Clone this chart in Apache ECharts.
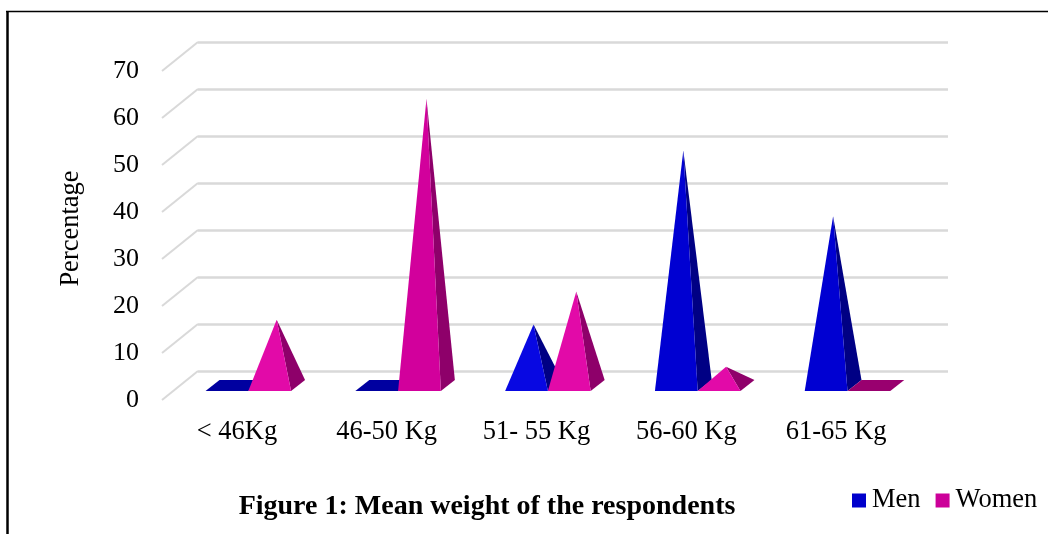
<!DOCTYPE html>
<html>
<head>
<meta charset="utf-8">
<style>html,body{margin:0;padding:0;background:#fff}#c{width:1048px;height:534px}</style>
<script src="https://cdn.jsdelivr.net/npm/echarts@6/dist/echarts.min.js"></script>
</head>
<body>
<div id="c"></div>
<script>
const categories = ['< 46Kg', '46-50 Kg', '51- 55 Kg', '56-60 Kg', '61-65 Kg'];
const menValues = [0, 0, 13, 50, 36];
const womenValues = [14, 61, 20, 4, 0];
const yTicks = [0, 10, 20, 30, 40, 50, 60, 70];

const FONT = '"Liberation Serif", "Times New Roman", serif';
const DEPTH_X = 36, DEPTH_Y = 29;          // wall depth
const FRONT_X = 11.4, FRONT_Y = 9;         // base front edge, from front plane
const BASE_DX = 14, BASE_DY = 11;          // base depth
const BAR_FRAC = 0.2855;

function pyramid(side, c) {
  return function (params, api) {
    const v = api.value(1);
    const p = api.coord([api.value(0), v]);
    const p0 = api.coord([api.value(0), 0]);
    const w = api.size([1, 0])[0] * BAR_FRAC;
    const xl = p0[0] + FRONT_X + (side < 0 ? -w : 0);
    const xr = xl + w;
    const yf = p0[1] - FRONT_Y;
    const FL = [xl, yf], FR = [xr, yf];
    const BR = [xr + BASE_DX, yf - BASE_DY], BL = [xl + BASE_DX, yf - BASE_DY];
    if (v === 0) {
      return { type: 'polygon', shape: { points: [FL, FR, BR, BL] }, style: { fill: c.zero } };
    }
    const apex = [(xl + xr) / 2 + BASE_DX / 2, p[1] - FRONT_Y - BASE_DY / 2];
    const fill = v < 30 ? c.bright : c.front;
    return {
      type: 'group',
      children: [
        { type: 'polygon', shape: { points: [FR, BR, apex] }, style: { fill: c.side } },
        { type: 'polygon', shape: { points: [FL, FR, apex] }, style: { fill: fill } }
      ]
    };
  };
}

const chart = echarts.init(document.getElementById('c'), null, { renderer: 'canvas' });
chart.setOption({
  animation: false,
  backgroundColor: '#fff',
  title: {
    text: 'Figure 1: Mean weight of the respondents',
    left: 482, top: 488, textAlign: 'center',
    textStyle: { fontFamily: FONT, fontSize: 28, fontWeight: 'bold', color: '#000' }
  },
  legend: {
    left: 847, top: 482, itemWidth: 14, itemHeight: 14, itemGap: 15,
    icon: 'rect',
    textStyle: { fontFamily: FONT, fontSize: 26.5, color: '#000', padding: [0, 0, 0, 1] },
    data: [
      { name: 'Men', itemStyle: { color: '#0000cc' } },
      { name: 'Women', itemStyle: { color: '#cc0099' } }
    ]
  },
  grid: [
    { left: 162, top: 71, width: 749, height: 329 },
    { left: 198, top: 42, width: 750, height: 329 }
  ],
  xAxis: [
    {
      type: 'category', gridIndex: 0, data: categories,
      axisLine: { show: false }, axisTick: { show: false },
      axisLabel: { fontFamily: FONT, fontSize: 26.5, color: '#000', margin: 19, interval: 0 }
    },
    { type: 'value', gridIndex: 1, min: 0, max: 1, show: false }
  ],
  yAxis: [
    {
      type: 'value', gridIndex: 0, min: 0, max: 70, interval: 10,
      name: 'Percentage', nameLocation: 'middle', nameGap: 77, nameRotate: 90,
      nameTextStyle: { fontFamily: FONT, fontSize: 26.5, color: '#000', padding: [0, 0, 0, 14] },
      axisLine: { show: false }, axisTick: { show: false }, splitLine: { show: false },
      axisLabel: { fontFamily: FONT, fontSize: 26, color: '#000', margin: 23 }
    },
    {
      type: 'value', gridIndex: 1, min: 0, max: 70, interval: 10,
      axisLine: { show: false }, axisTick: { show: false }, axisLabel: { show: false },
      splitLine: { show: true, lineStyle: { color: '#d9d9d9', width: 2.5 } }
    }
  ],
  series: [
    {
      name: 'walls', type: 'custom', xAxisIndex: 0, yAxisIndex: 0, silent: true, z: 1,
      data: yTicks.map(function (t) { return [0, t]; }),
      renderItem: function (params, api) {
        const y = api.coord([0, api.value(1)])[1];
        const x = params.coordSys.x;
        return {
          type: 'line',
          shape: { x1: x, y1: y, x2: x + DEPTH_X, y2: y - DEPTH_Y },
          style: { stroke: '#d9d9d9', lineWidth: 2 }
        };
      }
    },
    {
      name: 'Men', type: 'custom', xAxisIndex: 0, yAxisIndex: 0, z: 2,
      encode: { x: 0, y: 1 },
      data: menValues.map(function (v, i) { return [i, v]; }),
      renderItem: pyramid(-1, { front: '#0000d2', bright: '#0808e2', side: '#000084', zero: '#0000a0' })
    },
    {
      name: 'Women', type: 'custom', xAxisIndex: 0, yAxisIndex: 0, z: 3,
      encode: { x: 0, y: 1 },
      data: womenValues.map(function (v, i) { return [i, v]; }),
      renderItem: pyramid(1, { front: '#d2009c', bright: '#e20aa8', side: '#8e006a', zero: '#99006f' })
    }
  ],
  graphic: [
    { type: 'line', shape: { x1: 7.5, y1: 11, x2: 7.5, y2: 534 }, style: { stroke: '#000', lineWidth: 2.5 } },
    { type: 'line', shape: { x1: 6, y1: 11.5, x2: 1048, y2: 11.5 }, style: { stroke: '#000', lineWidth: 1.5 } }
  ]
});
</script>
</body>
</html>
